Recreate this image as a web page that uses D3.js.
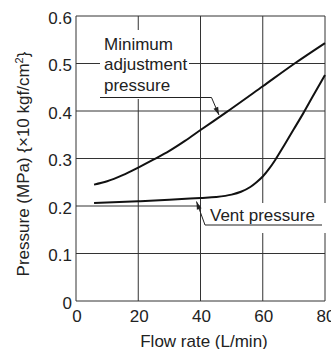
<!DOCTYPE html>
<html><head><meta charset="utf-8">
<script src="https://cdn.jsdelivr.net/npm/d3@7"></script>
<style>
body{margin:0;background:#fff;}
text{font-family:"Liberation Sans",Arial,sans-serif;fill:#222;}
</style></head>
<body><svg id="c" width="331" height="349"></svg>
<script>
const xTicks = [0, 20, 40, 60, 80];
const yTicks = [0, 0.1, 0.2, 0.3, 0.4, 0.5, 0.6];
const yTickLabels = ["0", "0.1", "0.2", "0.3", "0.4", "0.5", "0.6"];
const minFlow = [5.8, 10, 15, 20, 25, 30, 35, 40, 48, 60, 70, 80];
const minPressure = [0.245, 0.252, 0.265, 0.281, 0.298, 0.316, 0.337, 0.36, 0.396, 0.452, 0.499, 0.543];
const ventFlow = [5.8, 20, 30, 40, 45, 50, 53, 56, 58, 60, 62, 64, 67, 70, 73, 76, 80];
const ventPressure = [0.2065, 0.21, 0.213, 0.217, 0.219, 0.224, 0.230, 0.240, 0.250, 0.262, 0.278, 0.297, 0.329, 0.362, 0.395, 0.43, 0.476];
const labelMin = ["Minimum", "adjustment", "pressure"];
const labelVent = "Vent pressure";
const xTitle = "Flow rate (L/min)";

const svg = d3.select("#c");
const x = d3.scaleLinear().domain([0, 80]).range([76, 325]);
const y = d3.scaleLinear().domain([0, 0.6]).range([301, 16]);
const grid = "#333";

// gridlines
svg.append("g").selectAll("line").data(xTicks).join("line")
  .attr("x1", d => x(d)).attr("x2", d => x(d)).attr("y1", y(0)).attr("y2", y(0.6))
  .attr("stroke", grid).attr("stroke-width", 1);
svg.append("g").selectAll("line").data(yTicks).join("line")
  .attr("y1", d => y(d)).attr("y2", d => y(d)).attr("x1", x(0)).attr("x2", x(80))
  .attr("stroke", grid).attr("stroke-width", 1);

// white label backgrounds
svg.append("rect").attr("x", 100).attr("y", 30).attr("width", 89).attr("height", 69).attr("fill", "#fff");
svg.append("rect").attr("x", 201).attr("y", 203).attr("width", 126).attr("height", 30).attr("fill", "#fff");

// ticks labels
svg.append("g").selectAll("text").data(yTicks).join("text")
  .attr("x", 72).attr("y", d => y(d) + 7.5).attr("text-anchor", "end")
  .attr("font-size", 17).text((d, i) => yTickLabels[i]);
svg.append("g").selectAll("text").data(xTicks).join("text")
  .attr("x", d => x(d) + 1).attr("y", 322).attr("text-anchor", "middle")
  .attr("font-size", 17).text(d => d);

// axis titles
svg.append("text").attr("x", 204).attr("y", 347).attr("text-anchor", "middle")
  .attr("font-size", 17).text(xTitle);
const yt = svg.append("text").attr("transform", "translate(29,164) rotate(-90)")
  .attr("text-anchor", "middle").attr("font-size", 17);
yt.append("tspan").text("Pressure (MPa) {×10 kgf/cm");
yt.append("tspan").attr("font-size", 11).attr("dy", -6).text("2");
yt.append("tspan").attr("dy", 6).text("}");

// curves
const line = d3.line().x(d => x(d[0])).y(d => y(d[1])).curve(d3.curveMonotoneX);
svg.append("path").attr("d", line(minFlow.map((f, i) => [f, minPressure[i]])))
  .attr("fill", "none").attr("stroke", "#111").attr("stroke-width", 2);
svg.append("path").attr("d", line(ventFlow.map((f, i) => [f, ventPressure[i]])))
  .attr("fill", "none").attr("stroke", "#111").attr("stroke-width", 2);

// labels
svg.append("g").selectAll("text").data(labelMin).join("text")
  .attr("x", 104).attr("y", (d, i) => 50 + i * 20.3).attr("font-size", 17).text(d => d);
svg.append("text").attr("x", 210).attr("y", 221).attr("font-size", 17).text(labelVent);

// leader lines with arrowheads
function arrow(pts) {
  svg.append("path").attr("d", d3.line()(pts)).attr("fill", "none")
    .attr("stroke", "#222").attr("stroke-width", 1);
  const [a, b] = pts.slice(-2);
  const ang = Math.atan2(b[1] - a[1], b[0] - a[0]);
  const L = 8, W = 2.5;
  const p1 = [b[0] - L * Math.cos(ang) + W * Math.sin(ang), b[1] - L * Math.sin(ang) - W * Math.cos(ang)];
  const p2 = [b[0] - L * Math.cos(ang) - W * Math.sin(ang), b[1] - L * Math.sin(ang) + W * Math.cos(ang)];
  svg.append("path").attr("d", d3.line()([b, p1, p2]) + "Z").attr("fill", "#222");
}
arrow([[100, 97.5], [211.5, 97.5], [219, 115]]);
arrow([[322, 225], [205, 225], [196.5, 201.5]]);
</script></body></html>
